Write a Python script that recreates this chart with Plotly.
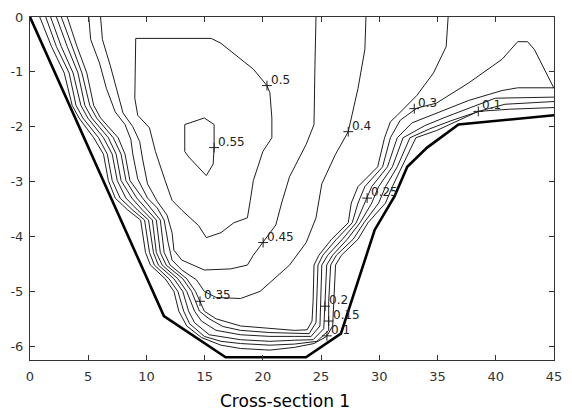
import plotly.graph_objects as go

# ---- channel bed (cross-section outline) ----
bed_x = [0, 11.5, 16.8, 23.7, 26.7, 29.6, 31.3, 32.4, 34.1, 36.8, 45]
bed_y = [0, -5.45, -6.2, -6.2, -5.77, -3.88, -3.27, -2.73, -2.38, -1.96, -1.79]

# ---- velocity contours (x = distance, y = depth) ----
c055_x = [13.29, 14.97, 15.81, 15.81, 15.73, 15.14, 13.63, 13.29, 13.29]
c055_y = [-1.96, -1.84, -1.96, -2.38, -2.68, -2.89, -2.55, -2.45, -1.96]

c050_x = [9.08, 15.56, 16.4, 19.18, 20.35, 20.6, 20.77, 20.77, 20.0, 19.18, 18.92, 18.67,
          17.5, 16.4, 15.14, 14.47, 13.04, 12.2, 11.6, 10.77, 10.26, 9.25, 9.0, 9.08]
c050_y = [-0.39, -0.39, -0.48, -0.95, -1.25, -1.38, -1.84, -2.2, -2.45, -2.98, -3.34, -3.66,
          -3.75, -3.93, -4.02, -3.8, -3.52, -3.34, -2.98, -2.45, -2.02, -1.79, -1.48, -0.39]

c045_x = [6.06, 6.22, 6.9, 7.49, 7.99, 8.83, 9.42, 9.67, 10.09, 10.93, 11.77, 12.2, 12.36, 13.04,
          14.3, 14.97, 17.24, 18.67, 19.18, 20.02, 21.11, 21.61, 22.29, 23.72, 24.39, 24.47, 24.56]
c045_y = [0, -0.41, -0.89, -1.34, -1.75, -2.0, -2.27, -2.59, -3.04, -3.36, -3.61, -3.93, -4.25, -4.43,
          -4.55, -4.61, -4.59, -4.52, -4.34, -4.11, -3.79, -3.39, -2.91, -2.32, -1.96, -0.89, 0]

c040_x = [5.05, 5.21, 5.97, 6.56, 7.32, 8.16, 8.66, 8.83, 9.25, 10.09, 10.93, 11.52, 11.86, 12.2,
          13.04, 14.3, 14.97, 15.98, 18.08, 19.76, 22.29, 23.72, 24.56, 25.06, 26.24, 27.33,
          28.17, 28.76, 28.85]
c040_y = [0, -0.41, -0.84, -1.3, -1.73, -1.96, -2.23, -2.5, -2.95, -3.3, -3.48, -3.7, -4.11, -4.43,
          -4.61, -4.79, -5.0, -5.11, -5.13, -5.0, -4.52, -4.11, -3.66, -3.04, -2.5, -2.09,
          -1.3, -0.59, 0]

# depths of the left-bank readings shared by the near-bed contours
left_depths = [0, -0.54, -1.02, -1.61, -1.84, -2.2, -2.5, -2.98, -3.3, -3.52, -3.7,
               -4.29, -4.52, -4.77, -5.0, -5.36]

c035_x = [3.2, 4.04, 4.88, 5.47, 6.06, 7.57, 8.16, 8.58, 9.67, 10.51, 11.19, 11.52, 12.03, 13.46,
          14.21, 14.97,
          15.98, 18.08, 20.6, 22.71, 23.8, 24.22,
          24.31, 24.39, 24.81, 25.9, 27.33, 27.59, 28.17, 29.86, 30.45,
          30.95, 31.54, 33.22, 34.65, 35.74, 35.91]
c035_y = left_depths + [-5.5, -5.63, -5.68, -5.71, -5.7, -5.54,
                        -5.18, -4.52, -4.34, -4.05, -3.75, -3.39, -3.09, -2.73, -2.2,
                        -1.91, -1.79, -1.43, -1.02, -0.54, 0]

c030_x = [2.69, 3.62, 4.46, 5.13, 5.72, 7.15, 7.82, 8.24, 9.17, 10.09, 10.85, 11.19, 11.69, 13.12,
          13.88, 14.55,
          15.39, 16.57, 18.08, 20.6, 22.71, 23.97, 24.56,
          24.64, 24.73, 25.15, 26.32, 27.67, 28.17, 28.76, 30.28, 30.95,
          31.8, 33.22, 34.9, 37.68, 40.54, 41.88, 42.73, 43.31, 44.15, 45]
c030_y = left_depths + [-5.5, -5.64, -5.71, -5.75, -5.77, -5.77, -5.57,
                        -5.18, -4.52, -4.34, -4.05, -3.75, -3.39, -3.09, -2.73, -2.2,
                        -1.88, -1.66, -1.57, -1.2, -0.77, -0.45, -0.45, -0.59, -0.95, -1.3]

c025_x = [2.27, 3.2, 4.12, 4.71, 5.3, 6.73, 7.4, 7.82, 8.75, 9.67, 10.51, 10.85, 11.35, 12.7,
          13.46, 14.13,
          14.72, 15.98, 18.08, 20.6, 22.71, 24.14, 24.9,
          24.98, 25.06, 25.57, 26.83, 28.01, 28.76, 29.35, 30.7, 31.54,
          32.8, 34.9, 37.68, 40.54, 41.88, 45]
c025_y = left_depths + [-5.54, -5.71, -5.79, -5.82, -5.82, -5.82, -5.63,
                        -5.18, -4.52, -4.34, -4.05, -3.75, -3.39, -3.09, -2.73, -2.2,
                        -1.93, -1.75, -1.52, -1.34, -1.29, -1.29]

c020_x = [1.77, 2.69, 3.7, 4.37, 4.96, 6.31, 7.06, 7.49, 8.24, 9.25, 10.18, 10.6, 11.02, 12.36,
          13.12, 13.62,
          14.13, 15.39, 18.08, 20.6, 22.71, 24.31, 25.23,
          25.32, 25.48, 25.99, 27.25, 28.34, 29.35, 29.94, 31.12, 32.04,
          33.9, 35.74, 38.27, 39.95, 45]
c020_y = left_depths + [-5.57, -5.79, -5.88, -5.91, -5.89, -5.88, -5.68,
                        -5.18, -4.52, -4.34, -4.05, -3.75, -3.39, -3.09, -2.73, -2.2,
                        -1.98, -1.82, -1.61, -1.48, -1.46]

c015_x = [1.35, 2.27, 3.36, 3.95, 4.54, 5.89, 6.64, 7.06, 7.74, 8.83, 9.84, 10.26, 10.68, 11.94,
          12.7, 13.2,
          13.71, 14.97, 16.4, 18.08, 20.6, 22.71, 24.64, 25.65,
          25.65, 25.82, 26.32, 27.75, 28.68, 29.94, 30.53, 31.54, 32.63,
          34.3, 36.16, 38.69, 40.79, 45]
c015_y = left_depths + [-5.59, -5.82, -5.91, -5.95, -5.98, -5.96, -5.91, -5.71,
                        -5.18, -4.52, -4.34, -4.05, -3.75, -3.39, -3.09, -2.73, -2.2,
                        -2.04, -1.89, -1.71, -1.59, -1.54]

c010_x = [0.84, 1.85, 2.94, 3.62, 4.21, 5.47, 6.31, 6.73, 7.32, 8.41, 9.5, 9.92, 10.34, 11.61,
          12.36, 12.78,
          13.46, 14.72, 16.4, 18.08, 20.6, 22.71, 24.39, 25.48, 25.99,
          26.07, 26.24, 26.75, 28.17, 29.02, 30.53, 31.12, 31.96, 33.14,
          34.9, 37.0, 38.5, 41.2, 45]
c010_y = left_depths + [-5.63, -5.84, -5.98, -6.04, -6.07, -6.02, -5.95, -5.82, -5.63,
                        -5.18, -4.52, -4.34, -4.05, -3.75, -3.39, -3.09, -2.73, -2.2,
                        -2.07, -1.86, -1.72, -1.68, -1.65]

contours = [
    (0.55, c055_x, c055_y), (0.5, c050_x, c050_y), (0.45, c045_x, c045_y),
    (0.4, c040_x, c040_y), (0.35, c035_x, c035_y), (0.3, c030_x, c030_y),
    (0.25, c025_x, c025_y), (0.2, c020_x, c020_y), (0.15, c015_x, c015_y),
    (0.1, c010_x, c010_y),
]

# contour label positions (level, x, y)
label_level = [0.55, 0.5, 0.45, 0.4, 0.35, 0.3, 0.25, 0.2, 0.15, 0.1, 0.1]
label_x = [15.81, 20.35, 20.02, 27.33, 14.6, 33.0, 28.95, 25.34, 25.65, 25.5, 38.5]
label_y = [-2.38, -1.25, -4.11, -2.09, -5.18, -1.67, -3.3, -5.27, -5.54, -5.81, -1.72]

x_ticks = [0, 5, 10, 15, 20, 25, 30, 35, 40, 45]
y_ticks = [0, -1, -2, -3, -4, -5, -6]
y_tick_text = ["0", "-1", "-2", "-3", "-4", "-5", "-6"]

LINE = "#1e1e1e"
FONT = "DejaVu Sans"

fig = go.Figure()
for level, xs, ys in contours:
    fig.add_trace(go.Scatter(x=xs, y=ys, mode="lines", name=f"{level:g}",
                             line=dict(color=LINE, width=1), hoverinfo="skip"))

fig.add_trace(go.Scatter(x=bed_x, y=bed_y, mode="lines", name="bed",
                         line=dict(color="black", width=2.6)))

fig.add_trace(go.Scatter(x=label_x, y=label_y, mode="markers", name="labels",
                         marker=dict(symbol="cross-thin", size=7,
                                     line=dict(color=LINE, width=1))))

for lv, lx, ly in zip(label_level, label_x, label_y):
    fig.add_annotation(x=lx, y=ly, text=f"{lv:g}", showarrow=False,
                       xanchor="left", yanchor="middle", xshift=2, yshift=6,
                       font=dict(family=FONT, size=12, color="#222"))

fig.add_annotation(text="Cross-section 1", xref="paper", yref="paper",
                   x=0.487, y=-0.12, xanchor="center", yanchor="middle",
                   showarrow=False, font=dict(family=FONT, size=17, color="black"))

axis_common = dict(showline=True, linecolor="#333", linewidth=1, mirror="ticks",
                   ticks="inside", ticklen=5, tickcolor="#333", showgrid=False,
                   zeroline=False, tickfont=dict(family=FONT, size=13, color="#333"))

fig.update_layout(
    width=572, height=417,
    margin=dict(l=25, r=11, t=10, b=57),
    paper_bgcolor="white", plot_bgcolor="white",
    showlegend=False,
    xaxis=dict(range=[0, 45], tickvals=x_ticks, ticklabelstandoff=4, **axis_common),
    yaxis=dict(range=[-6.25, 0], tickvals=y_ticks, ticktext=y_tick_text,
               ticklabelstandoff=3, **axis_common),
)

fig.write_html("out.html")
